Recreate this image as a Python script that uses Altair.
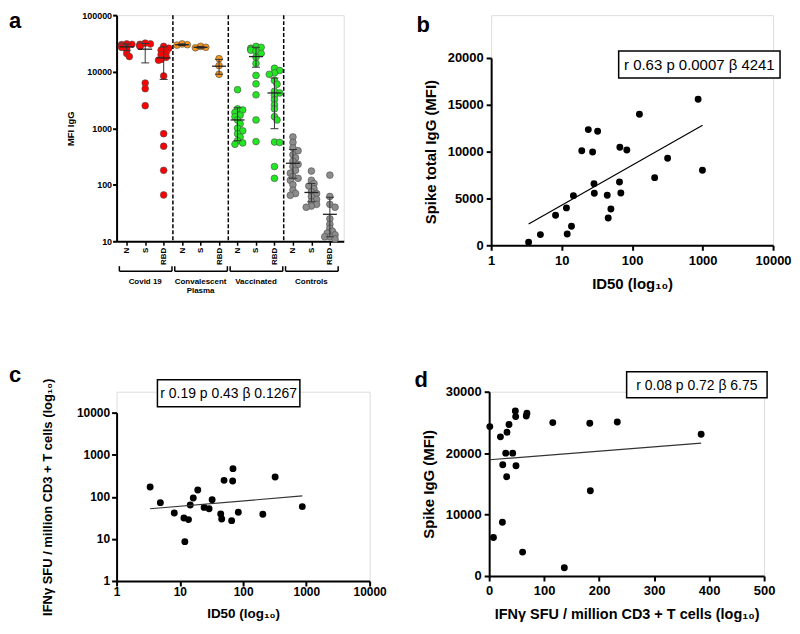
import json
import numpy as np
import pandas as pd
import altair as alt

FONT = "Liberation Sans"

# ---------------- Panel a data ----------------
cat_labels = ["N", "S", "RBD"] * 4
groups = ["Covid 19", "Convalescent Plasma", "Vaccinated", "Controls"]
group_labels = ["Covid 19", "Convalescent\nPlasma", "Vaccinated", "Controls"]
group_colors = ["#ff0000", "#f7941d", "#22e622", "#8c8c8c"]

covid_n = [31000, 30500, 30000, 29000, 28000, 27000, 25000, 21000, 18500]
covid_s = [32000, 31000, 30500, 30000, 29000, 28500, 28000, 6300, 5000, 2500]
covid_rbd = [28000, 26000, 24000, 22000, 20000, 18000, 16500, 16000, 8400, 800, 480, 180, 66]
conv_n = [31000, 30000, 29500]
conv_s = [28000, 27000, 26500]
conv_rbd = [17000, 12800, 9000]
vacc_n = [4800, 2200, 2100, 1900, 1700, 1600, 1400, 1200, 1000, 900, 800, 700, 600, 550, 520]
vacc_s = [28000, 27000, 26000, 25000, 24000, 23000, 21000, 18000, 14000, 8600, 6100, 3900, 1400, 580]
vacc_rbd = [11500, 10500, 9500, 9000, 7000, 6000, 4500, 4200, 3800, 3200, 2600, 2200, 1600, 1400, 570, 560, 210, 130]
ctrl_n = [700, 560, 450, 400, 340, 300, 260, 230, 210, 180, 160, 140, 130, 120, 100, 80, 70, 65]
ctrl_s = [175, 120, 105, 95, 85, 75, 70, 62, 55, 50, 45, 42, 40]
ctrl_rbd = [148, 62, 45, 40, 25, 20, 17, 15, 14, 13, 12, 12, 11]

a_series = [covid_n, covid_s, covid_rbd, conv_n, conv_s, conv_rbd,
            vacc_n, vacc_s, vacc_rbd, ctrl_n, ctrl_s, ctrl_rbd]
a_mean = [27500, 25000, 17500, 30000, 27000, 12500, 1400, 18500, 4200, 240, 73, 30]
a_lo = [23500, 14300, 7300, 29000, 26000, 9000, 600, 12000, 980, 130, 50, 12]
a_hi = [31000, 31500, 27500, 31000, 28000, 16500, 2300, 27000, 7700, 420, 105, 60]

# ---------------- Panel b data ----------------
b_id50 = [3.4, 5.0, 8.2, 11.7, 12.0, 13.8, 14.7, 19.3, 23.9, 27.5, 28.8, 29.1, 32.4,
          44.4, 45.8, 50.0, 66.2, 67.0, 69.2, 84.1, 127, 209, 319, 864, 995]
b_igg = [320, 1140, 3200, 3990, 1210, 2030, 5300, 10100, 12350, 9960, 6580, 5550, 12180,
         5340, 2920, 3880, 6760, 10460, 5590, 10180, 13990, 7220, 9290, 15590, 8010]
b_fit_x = [3.4, 1000]
b_fit_y = [2280, 12810]

# ---------------- Panel c data ----------------
c_id50 = [3.39, 4.92, 8.17, 11.6, 12.0, 13.7, 14.6, 16.3, 19.2, 24.2, 29.0, 32.4, 44.3,
          45.9, 50.0, 65.9, 68.4, 69.2, 84.0, 205, 321, 863]
c_sfu = [171, 72.7, 41.3, 31.4, 8.6, 28.7, 64, 93.8, 145, 56, 52, 85.6, 39,
         29.7, 246, 27.1, 238, 467, 42.8, 38.4, 296, 58.4]
c_fit_x = [3.39, 863]
c_fit_y = [52, 105]

# ---------------- Panel d data ----------------
d_sfu = [1.2, 7.8, 20.5, 24.1, 24.7, 30.1, 31.9, 32.5, 36.1, 42.8, 47.6, 48.2, 48.8,
         60.8, 67.5, 68.7, 115.7, 136.7, 183, 184, 233, 385.5]
d_igg = [24320, 6270, 22650, 8760, 18110, 20000, 16160, 23400, 24650, 20000, 26860, 25950,
         17950, 3890, 26050, 26490, 24970, 1350, 24860, 13890, 25080, 23080]
d_fit_x = [1.2, 385.5]
d_fit_y = [18920, 21620]

stats_b = "r 0.63 p 0.0007 β 4241"
stats_c = "r 0.19 p 0.43 β 0.1267"
stats_d = "r 0.08 p 0.72 β 6.75"
sfu_title = "IFNγ SFU / million CD3 + T cells (log₁₀)"
id50_title = "ID50 (log₁₀)"


def axis(lfs, tfs, **kw):
    base = dict(labelFont=FONT, labelFontWeight="bold", labelFontSize=lfs, labelColor="black",
                titleFont=FONT, titleFontWeight="bold", titleFontSize=tfs, titleColor="black",
                domainColor="black", domainWidth=2, tickColor="black", tickWidth=2,
                tickSize=5, grid=False, labelOverlap=False, labelFlush=False)
    base.update(kw)
    return alt.Axis(**base)


one = pd.DataFrame({"k": [0]})


def letter(ch, x, y):
    return alt.Chart(one).mark_text(text=ch, font=FONT, fontSize=22, fontWeight="bold",
                                    align="left", baseline="alphabetic", color="black").encode(
        x=alt.value(x), y=alt.value(y))


def stat_box(txt, x1, x2, y1, y2, fs):
    rect = alt.Chart(one).mark_rect(fill="white", stroke="black", strokeWidth=1.5).encode(
        x=alt.value(x1), x2=alt.value(x2), y=alt.value(y1), y2=alt.value(y2))
    t = alt.Chart(one).mark_text(text=txt, font=FONT, fontSize=fs, color="black",
                                 align="center", baseline="middle").encode(
        x=alt.value((x1 + x2) / 2), y=alt.value((y1 + y2) / 2 + 1))
    return rect + t


# ---------------- build panel a ----------------
PXU, PXD = 18.5, 56.75
STEP = 0.14


def swarm(vals, min_d=4.0):
    order = sorted(range(len(vals)), key=lambda i: -vals[i])
    placed, offs = [], [0.0] * len(vals)
    for i in order:
        py = np.log10(vals[i]) * PXD
        k = 0
        for k in [0, 1, -1, 2, -2]:
            px = k * STEP * PXU
            if all((px - qx) ** 2 + (py - qy) ** 2 >= min_d ** 2 for qx, qy in placed):
                break
        placed.append((k * STEP * PXU, py))
        offs[i] = k * STEP
    return offs


rows = []
for idx, vals in enumerate(a_series):
    for v, o in zip(vals, swarm(vals)):
        rows.append({"idx": idx, "xo": idx + o, "v": v, "group": groups[idx // 3]})
df_a = pd.DataFrame(rows)
df_sum = pd.DataFrame({"idx": list(range(12)), "mean": a_mean, "lo": a_lo, "hi": a_hi})
df_div = pd.DataFrame({"x": [2.5, 5.5, 8.5]})
df_br = pd.DataFrame({"start": [g * 3 - 0.4 for g in range(4)],
                      "end": [g * 3 + 2.45 for g in range(4)],
                      "mid": [g * 3 + 1 for g in range(4)],
                      "label": group_labels})
df_brend = pd.concat([df_br[["start"]].rename(columns={"start": "x"}),
                      df_br[["end"]].rename(columns={"end": "x"})])

WA, HA = 228, 227
xs_a = alt.Scale(domain=[-0.55, 11.75], nice=False, zero=False)
ys_a = alt.Scale(type="log", domain=[10, 100000], nice=False)
label_expr = json.dumps(cat_labels) + "[datum.value]"
ax_xa = axis(8, 9, values=list(range(12)), labelExpr=label_expr, labelAngle=-90,
             title=None, tickSize=4, tickWidth=1.5, labelPadding=2)
ax_ya = axis(9, 9.5, values=[10, 100, 1000, 10000, 100000], format="d",
             title="MFI IgG", tickSize=4, labelPadding=1, titlePadding=6)


def xa(f):
    return alt.X(f, type="quantitative", scale=xs_a, axis=ax_xa)


def ya(f):
    return alt.Y(f, type="quantitative", scale=ys_a, axis=ax_ya)


a_pts = alt.Chart(df_a).mark_point(filled=True, size=46, opacity=1, stroke="#4d4d4d",
                                   strokeWidth=0.6).encode(
    x=xa("xo"), y=ya("v"),
    color=alt.Color("group:N", scale=alt.Scale(domain=groups, range=group_colors), legend=None))
a_err = alt.Chart(df_sum).mark_rule(color="#333333", strokeWidth=1).encode(
    x=xa("idx"), y=ya("lo"), y2="hi:Q")
a_cap_lo = alt.Chart(df_sum).mark_rule(color="#333333", strokeWidth=1, xOffset=-4,
                                        x2Offset=4).encode(x=xa("idx"), x2="idx:Q", y=ya("lo"))
a_cap_hi = alt.Chart(df_sum).mark_rule(color="#333333", strokeWidth=1, xOffset=-4,
                                        x2Offset=4).encode(x=xa("idx"), x2="idx:Q", y=ya("hi"))
a_mean_l = alt.Chart(df_sum).mark_rule(color="#222222", strokeWidth=1.3, xOffset=-7,
                                        x2Offset=7).encode(x=xa("idx"), x2="idx:Q", y=ya("mean"))
a_div = alt.Chart(df_div).mark_rule(color="black", strokeWidth=1.5, strokeDash=[4, 2]).encode(
    x=xa("x"), y=alt.value(0), y2=alt.value(HA))
a_br = alt.Chart(df_br).mark_rule(color="black", strokeWidth=1.5).encode(
    x=xa("start"), x2="end:Q", y=alt.value(HA + 30))
a_brend = alt.Chart(df_brend).mark_rule(color="black", strokeWidth=1.5).encode(
    x=xa("x"), y=alt.value(HA + 25), y2=alt.value(HA + 30))
a_txt = alt.Chart(df_br).mark_text(font=FONT, fontSize=8, fontWeight="bold", color="black",
                                   baseline="top", lineBreak="\n", lineHeight=9).encode(
    x=xa("mid"), y=alt.value(HA + 37), text="label:N")

panel_a = alt.layer(a_pts, a_div, a_err, a_cap_lo, a_cap_hi, a_mean_l, a_br, a_brend, a_txt,
                    letter("a", -108, 13)).properties(width=WA, height=HA)

# ---------------- build panel b ----------------
# plot area starts 43 px below the top of panel a
WB, HB, TOPB = 283, 188, 43
df_b = pd.DataFrame({"x": b_id50, "y": b_igg})
df_bf = pd.DataFrame({"x": b_fit_x, "y": b_fit_y})
xs_b = alt.Scale(type="log", domain=[1, 10000], nice=False)
ys_b = alt.Scale(domain=[0, 20000], nice=False, range=[HB + TOPB, TOPB])
ax_xb = axis(13, 15, values=[1, 10, 100, 1000, 10000], format="d",
             title=id50_title, labelPadding=4, titlePadding=9)
ax_yb = axis(13, 15, values=[0, 5000, 10000, 15000, 20000], format="d",
             title="Spike total IgG (MFI)", labelPadding=3, titlePadding=9)
b_pts = alt.Chart(df_b).mark_circle(size=48, color="black", opacity=1).encode(
    x=alt.X("x:Q", scale=xs_b, axis=ax_xb), y=alt.Y("y:Q", scale=ys_b, axis=ax_yb))
b_fit = alt.Chart(df_bf).mark_line(color="black", strokeWidth=1.2).encode(
    x=alt.X("x:Q", scale=xs_b, axis=ax_xb), y=alt.Y("y:Q", scale=ys_b, axis=ax_yb))
panel_b = alt.layer(b_pts, b_fit, stat_box(stats_b, 128, 290, 36, 63, 15),
                    letter("b", -75, 17)).properties(width=WB, height=HB + TOPB)

# ---------------- build panel c ----------------
# plot area starts 21 px below the top of panel d
WC, HC, TOPC = 254, 169, 21
df_c = pd.DataFrame({"x": c_id50, "y": c_sfu})
df_cf = pd.DataFrame({"x": c_fit_x, "y": c_fit_y})
xs_c = alt.Scale(type="log", domain=[1, 10000], nice=False)
ys_c = alt.Scale(type="log", domain=[1, 10000], nice=False, range=[HC + TOPC, TOPC])
ax_xc = axis(12, 13.5, values=[1, 10, 100, 1000, 10000], format="d",
             title=id50_title, labelPadding=1, titlePadding=9)
ax_yc = axis(12, 13, values=[1, 10, 100, 1000, 10000], format="d",
             title=sfu_title, labelPadding=2, titlePadding=22)
c_pts = alt.Chart(df_c).mark_circle(size=48, color="black", opacity=1).encode(
    x=alt.X("x:Q", scale=xs_c, axis=ax_xc), y=alt.Y("y:Q", scale=ys_c, axis=ax_yc))
c_fit = alt.Chart(df_cf).mark_line(color="#333333", strokeWidth=1.2).encode(
    x=alt.X("x:Q", scale=xs_c, axis=ax_xc), y=alt.Y("y:Q", scale=ys_c, axis=ax_yc))
panel_c = alt.layer(c_pts, c_fit, stat_box(stats_c, 41, 184, -12, 15, 14),
                    letter("c", -108, -10)).properties(width=WC, height=HC + TOPC)

# ---------------- build panel d ----------------
WD, HD = 276, 185
df_d = pd.DataFrame({"x": d_sfu, "y": d_igg})
df_df = pd.DataFrame({"x": d_fit_x, "y": d_fit_y})
xs_d = alt.Scale(domain=[0, 500], nice=False)
ys_d = alt.Scale(domain=[0, 30000], nice=False)
ax_xd = axis(13, 14.5, values=[0, 100, 200, 300, 400, 500], format="d",
             title=sfu_title, labelPadding=4, titlePadding=10)
ax_yd = axis(13, 15, values=[0, 10000, 20000, 30000], format="d",
             title="Spike IgG (MFI)", labelPadding=3, titlePadding=9)
d_pts = alt.Chart(df_d).mark_circle(size=48, color="black", opacity=1).encode(
    x=alt.X("x:Q", scale=xs_d, axis=ax_xd), y=alt.Y("y:Q", scale=ys_d, axis=ax_yd))
d_fit = alt.Chart(df_df).mark_line(color="#333333", strokeWidth=1.2).encode(
    x=alt.X("x:Q", scale=xs_d, axis=ax_xd), y=alt.Y("y:Q", scale=ys_d, axis=ax_yd))
panel_d = alt.layer(d_pts, d_fit, stat_box(stats_d, 138, 279, -20, 6, 14),
                    letter("d", -75, -5)).properties(width=WD, height=HD)

row1 = alt.hconcat(panel_a, panel_b, spacing=71)
row2 = alt.hconcat(panel_c, panel_d, spacing=26)
chart = alt.vconcat(row1, row2, spacing=67).properties(
    padding={"left": 0, "top": 0, "right": 0, "bottom": 0}
).configure_view(stroke=None).configure(background="white")

chart.save("out.html", embed_options={"renderer": "svg", "actions": False})
